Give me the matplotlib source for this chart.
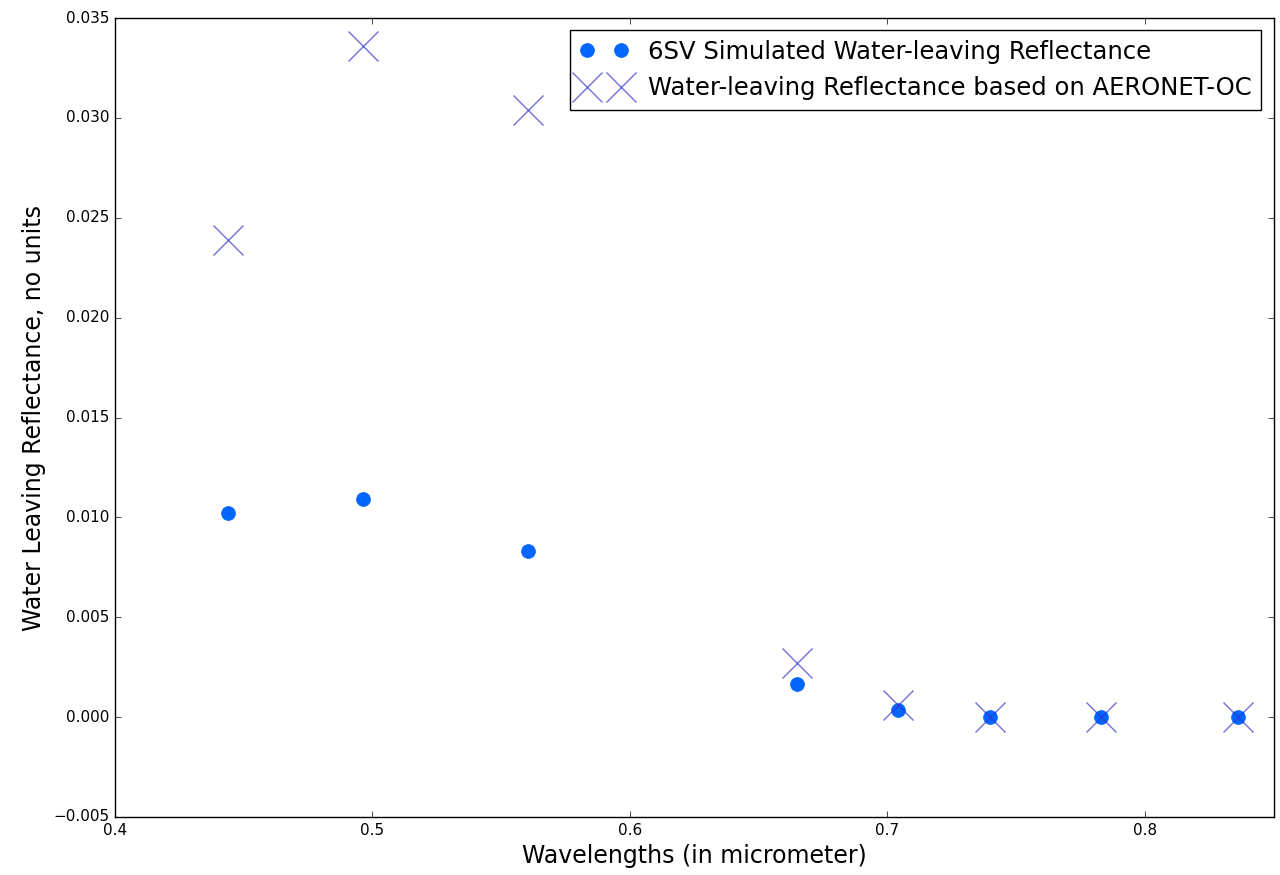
import matplotlib
matplotlib.use("Agg")
import matplotlib.pyplot as plt

plt.style.use('classic')

# wavelengths in micrometer
wavelengths = [0.444, 0.4965, 0.5605, 0.665, 0.704, 0.740, 0.783, 0.836]
sim_6sv = [0.0102, 0.0109, 0.0083, 0.00165, 0.00035, 0.0, 0.0, 0.0]
aeronet = [0.0239, 0.0336, 0.0304, 0.0027, 0.0006, 0.0, 0.0, 0.0]

fig = plt.figure(figsize=(12.8, 8.75), dpi=100)
fig.patch.set_facecolor('white')
ax = fig.add_axes([0.0898, 0.0663, 0.9052, 0.9131])

ax.plot(wavelengths, sim_6sv, 'o', color='#0066ff', markeredgecolor='#0066ff',
        markersize=10, label='6SV Simulated Water-leaving Reflectance')
ax.plot(wavelengths, aeronet, 'x', color='#3333cc', alpha=0.7, markersize=22,
        markeredgewidth=1.0, label='Water-leaving Reflectance based on AERONET-OC')

ax.set_xlim(0.4, 0.85)
ax.set_ylim(-0.005, 0.035)
ax.set_xticks([0.4, 0.5, 0.6, 0.7, 0.8])
ax.set_xlabel('Wavelengths (in micrometer)', fontsize=17)
ax.set_ylabel('Water Leaving Reflectance, no units', fontsize=17)
ax.tick_params(labelsize=11)
ax.legend(loc='upper right', numpoints=2, fontsize=17.5)

fig.savefig('out.png', dpi=100, facecolor='white')
